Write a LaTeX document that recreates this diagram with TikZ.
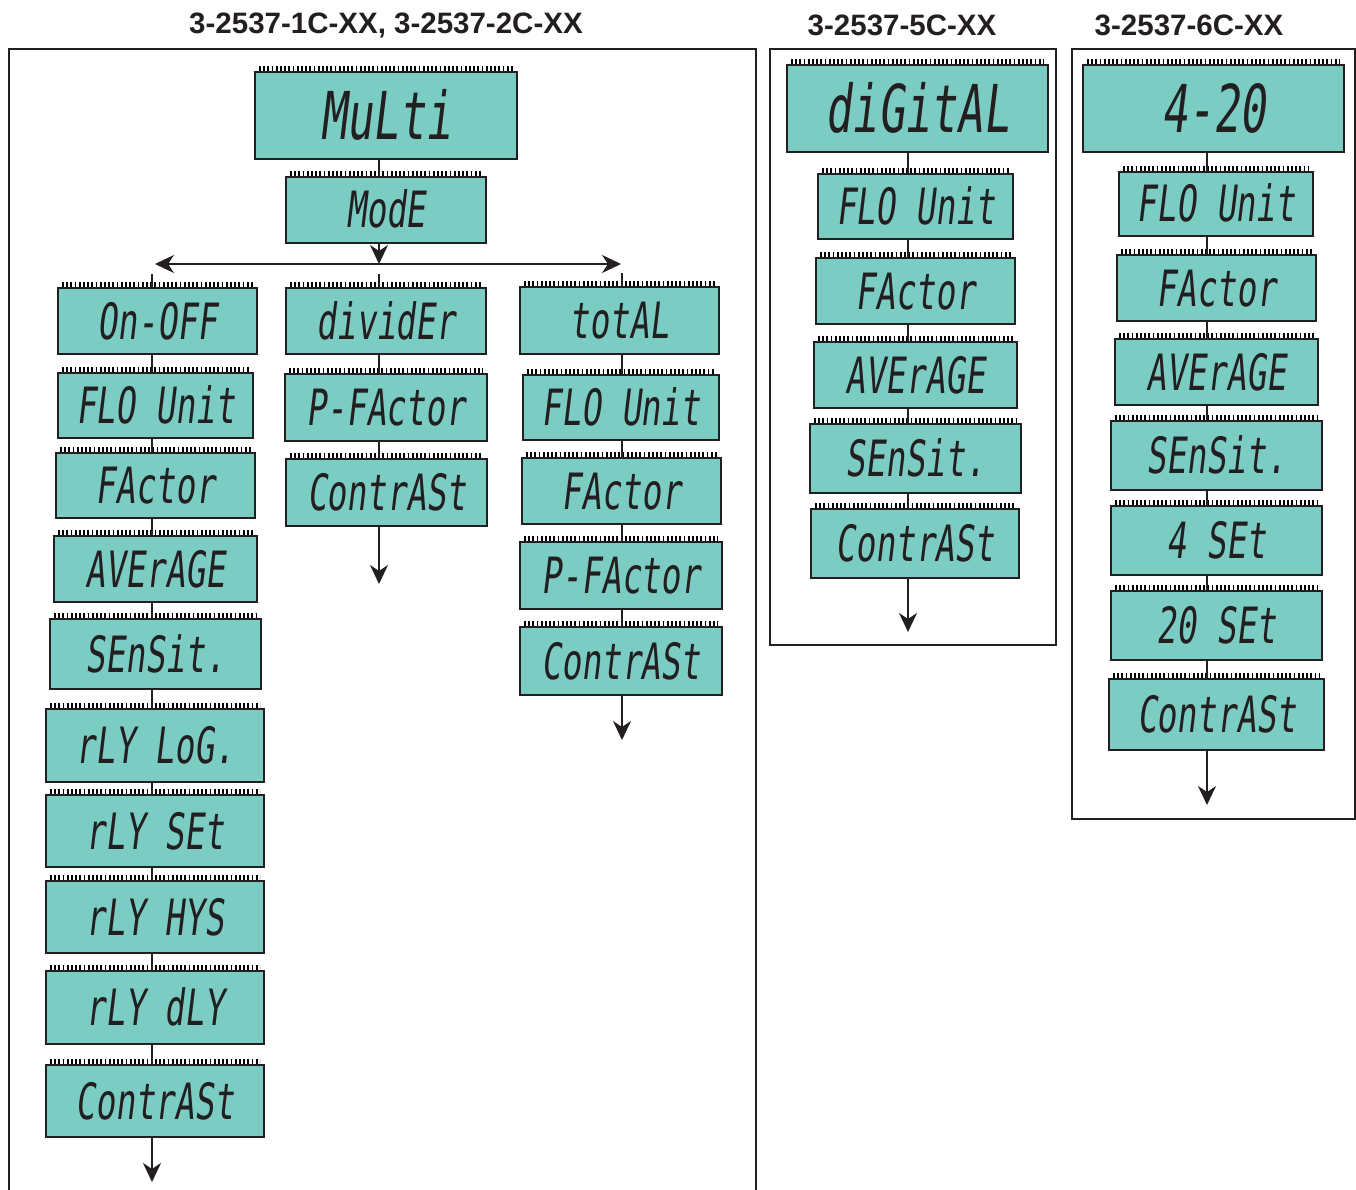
\documentclass[tikz,border=0pt]{standalone}
\usepackage{fontspec}
\usetikzlibrary{arrows.meta}
\newfontfamily\lcdfont[FakeSlant=0.12,FakeStretch=0.66]{DejaVu Sans Mono}
\newfontfamily\ttlfont{Liberation Sans}
\definecolor{lcdfill}{RGB}{123,205,196}
\definecolor{ink}{RGB}{35,31,32}
\definecolor{pin}{RGB}{165,165,165}
\newcommand\lcdbox[7][]{%
  \pgfmathsetmacro\lcdX{(#3+#5)/2}\pgfmathsetmacro\lcdY{(#4+#6)/2}%
  \pgfmathsetmacro\lcdW{#5-#3}\pgfmathsetmacro\lcdH{#6-#4}%
  \draw[pins] (#3+4,#4-3.5) -- (#5-4,#4-3.5);
  \node[lcd,#1,minimum width=\lcdW pt,minimum height=\lcdH pt] (#2) at (\lcdX,\lcdY) {#7};}
\begin{document}
\begin{tikzpicture}[x=1pt,y=-1pt,
  lcd/.style={draw=ink,line width=2pt,fill=lcdfill,inner sep=0pt,text=ink,
    font=\lcdfont\fontsize{50}{50}\selectfont,text height=36pt,text depth=0pt},
  big/.style={font=\lcdfont\fontsize{66}{66}\selectfont,text height=48pt},
  pins/.style={pin,line width=4.5pt,dash pattern=on 1.8pt off 2.4pt},
  conn/.style={ink,line width=2pt},
  arr/.style={conn,-{Stealth[length=19pt,width=18pt,inset=6pt]}},
  frame/.style={ink,line width=2pt},
  ttl/.style={font=\ttlfont\bfseries\fontsize{29.5}{29.5}\selectfont,text=ink,inner sep=0pt}]
\useasboundingbox (0,0) rectangle (1356,1190);
% frames
\draw[frame] (9,1192) -- (9,49) -- (756,49) -- (756,1192);
\draw[frame] (770,49) rectangle (1056,645);
\draw[frame] (1072,49) rectangle (1355,819);
% titles
\node[ttl] (t1) at (386,25) {3-2537-1C-XX, 3-2537-2C-XX};
\node[ttl] (t2) at (902,25) {3-2537-5C-XX};
\node[ttl] (t3) at (1189,25) {3-2537-6C-XX};
% column coordinates
\coordinate (cA) at (152,0);
\coordinate (cB) at (379,0);
\coordinate (cC) at (622,0);
\coordinate (cD) at (908,0);
\coordinate (cE) at (1207,0);
% left frame
\lcdbox[big]{multi}{255}{72}{517}{159}{MuLti}
\lcdbox{mode}{286}{177}{486}{243}{ModE}
\lcdbox{onoff}{58}{288}{257}{354}{On-OFF}
\lcdbox{fluA}{58}{373}{253}{438}{FLO Unit}
\lcdbox{facA}{56}{453}{255}{518}{FActor}
\lcdbox{avgA}{54}{536}{257}{602}{AVErAGE}
\lcdbox{senA}{50}{619}{261}{689}{SEnSit.}
\lcdbox{rlog}{46}{709}{264}{782}{rLY LoG.}
\lcdbox{rset}{46}{795}{264}{867}{rLY SEt}
\lcdbox{rhys}{46}{881}{264}{953}{rLY HYS}
\lcdbox{rdly}{46}{971}{264}{1044}{rLY dLY}
\lcdbox{conA}{46}{1065}{264}{1137}{ContrASt}
\lcdbox{divd}{286}{288}{486}{354}{dividEr}
\lcdbox{pfB}{285}{374}{487}{441}{P-FActor}
\lcdbox{conB}{286}{459}{487}{526}{ContrASt}
\lcdbox{totl}{520}{287}{719}{354}{totAL}
\lcdbox{fluC}{523}{375}{719}{440}{FLO Unit}
\lcdbox{facC}{522}{458}{721}{524}{FActor}
\lcdbox{pfC}{520}{542}{722}{609}{P-FActor}
\lcdbox{conC}{520}{627}{722}{695}{ContrASt}
% middle frame
\lcdbox[big]{digi}{787}{65}{1048}{152}{diGitAL}
\lcdbox{fluD}{818}{174}{1013}{239}{FLO Unit}
\lcdbox{facD}{816}{258}{1015}{324}{FActor}
\lcdbox{avgD}{814}{342}{1017}{408}{AVErAGE}
\lcdbox{senD}{810}{424}{1021}{493}{SEnSit.}
\lcdbox{conD}{811}{509}{1019}{578}{ContrASt}
% right frame
\lcdbox[big]{ma}{1083}{65}{1344}{152}{4-20}
\lcdbox{fluE}{1119}{172}{1313}{236}{FLO Unit}
\lcdbox{facE}{1117}{255}{1316}{321}{FActor}
\lcdbox{avgE}{1115}{339}{1318}{405}{AVErAGE}
\lcdbox{senE}{1111}{421}{1322}{490}{SEnSit.}
\lcdbox{fset}{1111}{506}{1322}{575}{4 SEt}
\lcdbox{tset}{1111}{591}{1322}{660}{20 SEt}
\lcdbox{conE}{1109}{679}{1324}{750}{ContrASt}
% split arrows
\coordinate (split) at (379,264);
\coordinate (hl) at (155,264);
\coordinate (hr) at (621,264);
\draw[conn] (multi.south -| cB) -- (mode.north -| cB);
\draw[arr] (mode.south -| cB) -- (split);
\draw[arr] (split) -- (hl);
\draw[arr] (split) -- (hr);
\draw[conn] (onoff.north -| cA) -- ++(0,-13);
\draw[conn] (divd.north -| cB) -- ++(0,-13);
\draw[conn] (totl.north -| cC) -- ++(0,-13);
% chains
\foreach \a/\b in {onoff/fluA,fluA/facA,facA/avgA,avgA/senA,senA/rlog,rlog/rset,rset/rhys,rhys/rdly,rdly/conA}
  \draw[conn] (\a.south -| cA) -- (\b.north -| cA);
\foreach \a/\b in {divd/pfB,pfB/conB}
  \draw[conn] (\a.south -| cB) -- (\b.north -| cB);
\foreach \a/\b in {totl/fluC,fluC/facC,facC/pfC,pfC/conC}
  \draw[conn] (\a.south -| cC) -- (\b.north -| cC);
\foreach \a/\b in {digi/fluD,fluD/facD,facD/avgD,avgD/senD,senD/conD}
  \draw[conn] (\a.south -| cD) -- (\b.north -| cD);
\foreach \a/\b in {ma/fluE,fluE/facE,facE/avgE,avgE/senE,senE/fset,fset/tset,tset/conE}
  \draw[conn] (\a.south -| cE) -- (\b.north -| cE);
% end arrows
\coordinate (endA) at (152,1182);
\coordinate (endB) at (379,584);
\coordinate (endC) at (622,740);
\coordinate (endD) at (908,632);
\coordinate (endE) at (1207,805);
\draw[arr] (conA.south -| cA) -- (endA);
\draw[arr] (conB.south -| cB) -- (endB);
\draw[arr] (conC.south -| cC) -- (endC);
\draw[arr] (conD.south -| cD) -- (endD);
\draw[arr] (conE.south -| cE) -- (endE);
\end{tikzpicture}
\end{document}
